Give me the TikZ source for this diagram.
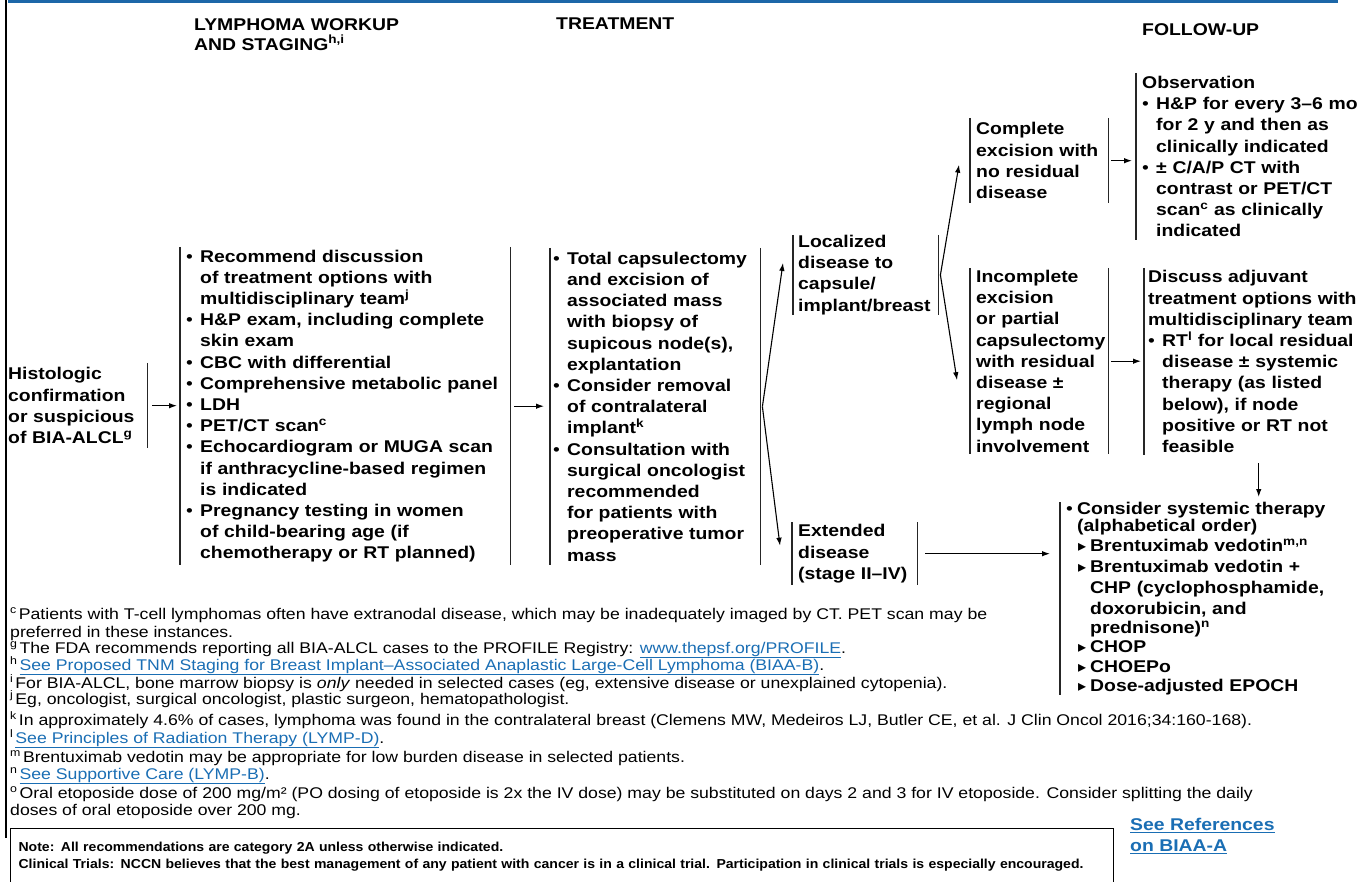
\documentclass[tikz,border=0pt]{standalone}
\usepackage{fontspec}
\setmainfont{Liberation Sans}[FakeStretch=1.14]
\newfontfamily\trifont{DejaVu Sans}
\newfontfamily\notefont{Liberation Sans}[FakeStretch=1.08]
\usetikzlibrary{arrows.meta}
\definecolor{barblue}{RGB}{28,103,168}
\definecolor{linkblue}{RGB}{26,110,180}
\newcommand{\bul}[1][14pt]{\makebox[#1][l]{\mdseries\textbullet}}
\newcommand{\indt}[1][14pt]{\hspace*{#1}}
\newcommand{\tri}{\makebox[12pt][l]{\trifont\fontsize{16}{16}\selectfont ▸}}
\newcommand{\lnk}[1]{{\color{linkblue}\underline{#1}}}
\newcommand{\fnm}[1]{\textsuperscript{#1}\hspace{2pt}}
\tikzset{
  stage/.style={anchor=north west, inner ysep=0pt, align=left,
    font=\bfseries\fontsize{17}{21.2}\selectfont},
  head/.style={anchor=north west, inner sep=0pt, align=left,
    font=\bfseries\fontsize{17}{20}\selectfont},
  fnote/.style={anchor=base west, inner sep=0pt, align=left,
    font=\fontsize{15.5}{18}\selectfont},
  bar/.style={line width=1.2pt, black!85},
  flow/.style={line width=1.1pt, -{Latex[length=8pt,width=5.5pt]}},
}
\begin{document}
\begin{tikzpicture}[x=1pt,y=-1pt]
\useasboundingbox (0,0) rectangle (1368,882);
% page frame
\fill[barblue] (8,0) rectangle (1338,3.5);
\draw[line width=2pt] (6,0) -- (6,838);

% column heads
\node[head] (hwork) at (194,18) {LYMPHOMA WORKUP\\AND STAGING\textsuperscript{h,i}};
\node[head] (htreat) at (556,18) {TREATMENT};
\node[head] (hfollow) at (1142,23) {FOLLOW-UP};

% stages
\node[stage, inner xsep=0pt, text width=139, minimum height=85] (hist) at (8,363)
  {Histologic\\confirmation\\or suspicious\\of BIA-ALCL\textsuperscript{g}};
\node[stage, inner xsep=6pt, text width=318, minimum height=318] (work) at (180,247)
  {\bul Recommend discussion\\
   \indt of treatment options with\\
   \indt multidisciplinary team\textsuperscript{j}\\
   \bul H\&P exam, including complete\\
   \indt skin exam\\
   \bul CBC with differential\\
   \bul Comprehensive metabolic panel\\
   \bul LDH\\
   \bul PET/CT scan\textsuperscript{c}\\
   \bul Echocardiogram or MUGA scan\\
   \indt if anthracycline-based regimen\\
   \indt is indicated\\
   \bul Pregnancy testing in women\\
   \indt of child-bearing age (if\\
   \indt chemotherapy or RT planned)};
\node[stage, inner xsep=3pt, text width=204, minimum height=317] (treat) at (550,248)
  {\bul Total capsulectomy\\
   \indt and excision of\\
   \indt associated mass\\
   \indt with biopsy of\\
   \indt supicous node(s),\\
   \indt explantation\\
   \bul Consider removal\\
   \indt of contralateral\\
   \indt implant\textsuperscript{k}\\
   \bul Consultation with\\
   \indt surgical oncologist\\
   \indt recommended\\
   \indt for patients with\\
   \indt preoperative tumor\\
   \indt mass};
\node[stage, inner xsep=5pt, text width=135, minimum height=78] (local) at (793,235)
  {Localized\\disease to\\capsule/\\implant/breast};
\node[stage, inner xsep=6pt, text width=113, minimum height=63] (extend) at (792,522)
  {Extended\\disease\\(stage II–IV)};
\node[stage, inner xsep=6pt, text width=126, minimum height=85] (compl) at (970,118)
  {Complete\\excision with\\no residual\\disease};
\node[stage, inner xsep=6pt, text width=126, minimum height=186] (incompl) at (970,268)
  {Incomplete\\excision\\or partial\\capsulectomy\\with residual\\disease ±\\regional\\lymph node\\involvement};
\node[stage, inner xsep=6pt, text width=220, minimum height=167] (observ) at (1136,73)
  {Observation\\
   \bul H\&P for every 3–6 mo\\
   \indt for 2 y and then as\\
   \indt clinically indicated\\
   \bul ± C/A/P CT with\\
   \indt contrast or PET/CT\\
   \indt scan\textsuperscript{c} as clinically\\
   \indt indicated};
\node[stage, inner xsep=4pt, text width=214, minimum height=187] (adjuv) at (1144,268)
  {Discuss adjuvant\\
   treatment options with\\
   multidisciplinary team\\
   \bul RT\textsuperscript{l} for local residual\\
   \indt disease ± systemic\\
   \indt therapy (as listed\\
   \indt below), if node\\
   \indt positive or RT not\\
   \indt feasible};
\node[stage, inner xsep=6pt, text width=280, minimum height=190] (system) at (1060,502)
  {\bul[11pt]Consider systemic therapy\\[-4pt]
   \indt[11pt](alphabetical order)\\[-1pt]
   \indt[12pt]\tri Brentuximab vedotin\textsuperscript{m,n}\\[-1pt]
   \indt[12pt]\tri Brentuximab vedotin +\\
   \indt[24pt]CHP (cyclophosphamide,\\
   \indt[24pt]doxorubicin, and\\[-2pt]
   \indt[24pt]prednisone)\textsuperscript{n}\\[-2pt]
   \indt[12pt]\tri CHOP\\[-2pt]
   \indt[12pt]\tri CHOEPo\\[-2pt]
   \indt[12pt]\tri Dose-adjusted EPOCH};

% bars
\foreach \n in {work,treat,local,extend,compl,incompl,observ,adjuv,system}
  \draw[bar] (\n.north west) -- (\n.south west);
\foreach \n in {hist,work,treat,local,extend,compl,incompl}
  \draw[bar] (\n.north east) -- (\n.south east);

% connectors
\draw[flow, shorten <=5pt, shorten >=3pt] (hist.east) -- (hist.east -| work.west);
\draw[flow, shorten <=4pt, shorten >=6pt] (work.east) -- (work.east -| treat.west);
\draw[flow] ([xshift=2pt]treat.east) -- ([xshift=-10pt,yshift=12pt]local.west);
\draw[flow] ([xshift=2pt]treat.east) -- ([xshift=-12pt,yshift=8pt]extend.west);
\draw[flow] ([xshift=2pt]local.east) -- ([xshift=-11pt,yshift=-4pt]compl.west);
\draw[flow] ([xshift=2pt]local.east) -- ([xshift=-13pt,yshift=-19pt]incompl.west);
\draw[flow, shorten <=3pt, shorten >=4pt] (compl.east) -- (compl.east -| observ.west);
\draw[flow, shorten <=3pt, shorten >=3pt] (incompl.east) -- (incompl.east -| adjuv.west);
\draw[flow, shorten <=8pt, shorten >=5pt] ([xshift=3.5pt]adjuv.south) -- ([xshift=3.5pt]adjuv.south |- system.north);
\draw[flow, shorten <=8pt, shorten >=10pt] (extend.east) -- (extend.east -| system.west);

% footnotes
\node[fnote] (fc) at (10,637) {\fnm{c}Patients with T-cell lymphomas often have extranodal disease, which may be inadequately imaged by CT. PET scan may be\\preferred in these instances.};
\node[fnote] (fg) at (10,653) {\fnm{g}The FDA recommends reporting all BIA-ALCL cases to the PROFILE Registry: \lnk{www.thepsf.org/PROFILE}.};
\node[fnote] (fh) at (10,670) {\fnm{h}\lnk{See Proposed TNM Staging for Breast Implant–Associated Anaplastic Large-Cell Lymphoma (BIAA-B)}.};
\node[fnote] (fi) at (10,688) {\fnm{i}For BIA-ALCL, bone marrow biopsy is \textit{only} needed in selected cases (eg, extensive disease or unexplained cytopenia).};
\node[fnote] (fj) at (10,704) {\fnm{j}Eg, oncologist, surgical oncologist, plastic surgeon, hematopathologist.};
\node[fnote] (fk) at (10,725) {\fnm{k}In approximately 4.6\% of cases, lymphoma was found in the contralateral breast (Clemens MW, Medeiros LJ, Butler CE, et al. J Clin Oncol 2016;34:160-168).};
\node[fnote] (fl) at (10,743) {\fnm{l}\lnk{See Principles of Radiation Therapy (LYMP-D)}.};
\node[fnote] (fm) at (10,762) {\fnm{m}Brentuximab vedotin may be appropriate for low burden disease in selected patients.};
\node[fnote] (fn) at (10,779) {\fnm{n}\lnk{See Supportive Care (LYMP-B)}.};
\node[fnote, font=\fontsize{15.5}{17}\selectfont] (fo) at (10,815) {\fnm{o}Oral etoposide dose of 200 mg/m² (PO dosing of etoposide is 2x the IV dose) may be substituted on days 2 and 3 for IV etoposide. Consider splitting the daily\\doses of oral etoposide over 200 mg.};

% note and references
\node[draw, line width=1.2pt, anchor=north west, inner xsep=8pt, inner ysep=0pt,
  text width=1087, minimum height=56, align=left,
  font=\notefont\bfseries\fontsize{13}{17}\selectfont] (note) at (10,828)
  {Note: All recommendations are category 2A unless otherwise indicated.\\
   Clinical Trials: NCCN believes that the best management of any patient with cancer is in a clinical trial. Participation in clinical trials is especially encouraged.};
\node[head, text=linkblue, font=\bfseries\fontsize{17}{21}\selectfont] (refs) at (1130,818)
  {\underline{See References}\\\underline{on BIAA-A}};
\end{tikzpicture}
\end{document}
